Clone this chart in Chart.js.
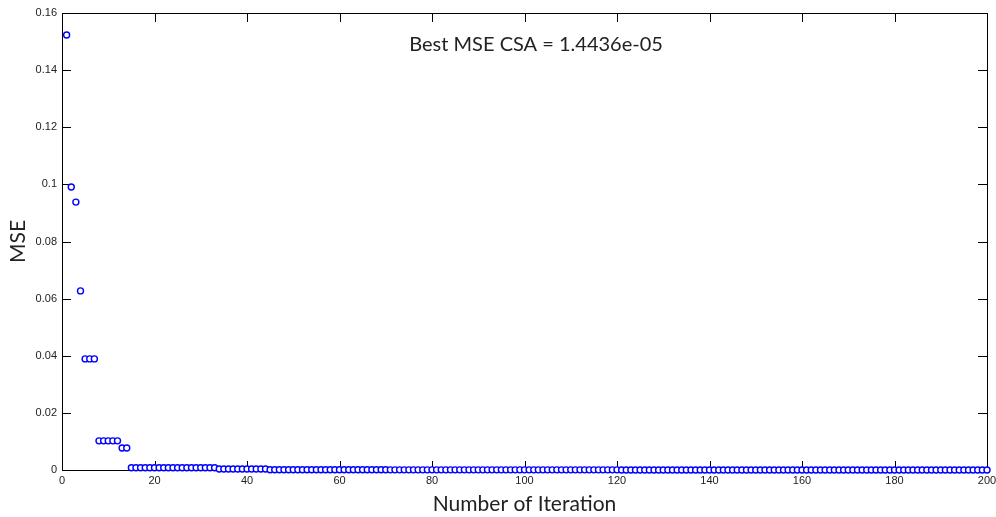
<!DOCTYPE html>
<html>
<head>
<meta charset="utf-8">
<script src="https://cdn.jsdelivr.net/npm/chart.js@4/dist/chart.umd.min.js"></script>
<style>
html,body{margin:0;padding:0;background:#fff;}
#wrap{width:996px;height:517px;position:relative;}
</style>
</head>
<body>
<div id="wrap"><canvas id="c"></canvas></div>
<script>
// Iteration numbers 1..200 are the x values; MSE values
const mseValues = [
  0.1523, 0.0991, 0.0938, 0.0627, 0.0389, 0.0389, 0.0389, 0.0102, 0.0102, 0.0102,
  0.0102, 0.0102, 0.0077, 0.0077, 0.0008, 0.0008, 0.0008, 0.0008, 0.0008, 0.0008,
  0.0008, 0.0008, 0.0008, 0.0008, 0.0008, 0.0008, 0.0008, 0.0008, 0.0008, 0.0008,
  0.0008, 0.0008, 0.0008, 0.00035, 0.00035, 0.00035, 0.00035, 0.00035, 0.00035, 0.00035,
  0.00035, 0.00035, 0.00035, 0.00035, 0.0001, 0.0001, 0.0001, 0.0001, 0.0001, 0.0001,
  0.0001, 0.0001, 0.0001, 0.0001, 0.0001, 0.0001, 0.0001, 0.0001, 0.0001, 0.0001,
  0.0001, 0.0001, 0.0001, 0.0001, 0.0001, 0.0001, 0.0001, 0.0001, 0.0001, 0.0001,
  0.00005, 0.00005, 0.00005, 0.00005, 0.00005, 0.00005, 0.00005, 0.00005, 0.00005, 0.00005,
  0.00005, 0.00005, 0.00005, 0.00005, 0.00005, 0.00005, 0.00005, 0.00005, 0.00005, 0.00005,
  0.00005, 0.00005, 0.00005, 0.00005, 0.00005, 0.00005, 0.00005, 0.00005, 0.00005, 0.00005,
  0.00005, 0.00005, 0.00005, 0.00005, 0.00005, 0.00005, 0.00005, 0.00005, 0.00005, 0.00005,
  0.00005, 0.00005, 0.00005, 0.00005, 0.00005, 0.00005, 0.00005, 0.00005, 0.00005, 0.00005,
  1.4436e-05, 1.4436e-05, 1.4436e-05, 1.4436e-05, 1.4436e-05, 1.4436e-05, 1.4436e-05, 1.4436e-05, 1.4436e-05, 1.4436e-05,
  1.4436e-05, 1.4436e-05, 1.4436e-05, 1.4436e-05, 1.4436e-05, 1.4436e-05, 1.4436e-05, 1.4436e-05, 1.4436e-05, 1.4436e-05,
  1.4436e-05, 1.4436e-05, 1.4436e-05, 1.4436e-05, 1.4436e-05, 1.4436e-05, 1.4436e-05, 1.4436e-05, 1.4436e-05, 1.4436e-05,
  1.4436e-05, 1.4436e-05, 1.4436e-05, 1.4436e-05, 1.4436e-05, 1.4436e-05, 1.4436e-05, 1.4436e-05, 1.4436e-05, 1.4436e-05,
  1.4436e-05, 1.4436e-05, 1.4436e-05, 1.4436e-05, 1.4436e-05, 1.4436e-05, 1.4436e-05, 1.4436e-05, 1.4436e-05, 1.4436e-05,
  1.4436e-05, 1.4436e-05, 1.4436e-05, 1.4436e-05, 1.4436e-05, 1.4436e-05, 1.4436e-05, 1.4436e-05, 1.4436e-05, 1.4436e-05,
  1.4436e-05, 1.4436e-05, 1.4436e-05, 1.4436e-05, 1.4436e-05, 1.4436e-05, 1.4436e-05, 1.4436e-05, 1.4436e-05, 1.4436e-05,
  1.4436e-05, 1.4436e-05, 1.4436e-05, 1.4436e-05, 1.4436e-05, 1.4436e-05, 1.4436e-05, 1.4436e-05, 1.4436e-05, 1.4436e-05
];
const xTickValues = [0, 20, 40, 60, 80, 100, 120, 140, 160, 180, 200];
const yTickValues = [0, 0.02, 0.04, 0.06, 0.08, 0.1, 0.12, 0.14, 0.16];
const xAxisTitle = 'Number of Iteration';
const yAxisTitle = 'MSE';
const annotationText = 'Best MSE CSA = 1.4436e-05';
const annotationPos = {x: 102.5, y: 0.1488};

const points = mseValues.map((v, i) => ({x: i + 1, y: v}));

const framePlugin = {
  id: 'frame',
  beforeDatasetsDraw(chart) {
    const {ctx, chartArea: a, scales: {x, y}} = chart;
    ctx.save();
    ctx.strokeStyle = '#000';
    ctx.lineWidth = 1;
    ctx.beginPath();
    ctx.rect(Math.round(a.left) + 0.5, Math.round(a.top) + 0.5, Math.round(a.right - a.left), Math.round(a.bottom - a.top));
    ctx.stroke();
    const tl = 9;
    ctx.beginPath();
    xTickValues.forEach(v => {
      const px = Math.round(x.getPixelForValue(v)) + 0.5;
      ctx.moveTo(px, a.bottom); ctx.lineTo(px, a.bottom - tl);
      ctx.moveTo(px, a.top); ctx.lineTo(px, a.top + tl);
    });
    yTickValues.forEach(v => {
      const py = Math.round(y.getPixelForValue(v)) + 0.5;
      ctx.moveTo(a.left, py); ctx.lineTo(a.left + tl, py);
      ctx.moveTo(a.right, py); ctx.lineTo(a.right - tl, py);
    });
    ctx.stroke();
    ctx.restore();
  },
  afterDraw(chart) {
    const {ctx, scales: {x, y}} = chart;
    ctx.save();
    ctx.fillStyle = '#222';
    ctx.font = '20px Lato, "Open Sans", sans-serif';
    ctx.textAlign = 'center';
    ctx.textBaseline = 'middle';
    ctx.fillText(annotationText, x.getPixelForValue(annotationPos.x), y.getPixelForValue(annotationPos.y));
    ctx.restore();
  }
};

new Chart(document.getElementById('c'), {
  type: 'scatter',
  data: {
    datasets: [{
      data: points,
      showLine: false,
      pointStyle: 'circle',
      pointRadius: 3,
      pointHoverRadius: 3,
      pointBorderWidth: 1.4,
      pointBorderColor: '#0000ff',
      pointBackgroundColor: '#ffffff',
      clip: false
    }]
  },
  options: {
    responsive: true,
    maintainAspectRatio: false,
    animation: false,
    events: [],
    layout: {padding: {top: 13, right: 9, left: 0, bottom: 0}},
    plugins: {legend: {display: false}, tooltip: {enabled: false}, title: {display: false}},
    scales: {
      x: {
        type: 'linear', min: 0, max: 200,
        afterBuildTicks: s => { s.ticks = xTickValues.map(v => ({value: v})); },
        afterFit: s => { s.height = 47; s.paddingLeft = 0; s.paddingRight = 0; },
        border: {display: false},
        grid: {display: false, drawTicks: false},
        ticks: {padding: 4, color: '#222', font: {family: 'Liberation Sans, Arial, sans-serif', size: 11}, maxRotation: 0,
          callback: v => String(v)},
        title: {display: true, text: xAxisTitle, color: '#222', padding: {top: 0, bottom: 0},
          font: {family: 'Lato, "Open Sans", sans-serif', size: 21}}
      },
      y: {
        type: 'linear', min: 0, max: 0.16,
        afterBuildTicks: s => { s.ticks = yTickValues.map(v => ({value: v})); },
        afterFit: s => { s.width = 62; s.paddingTop = 0; s.paddingBottom = 0; },
        border: {display: false},
        grid: {display: false, drawTicks: false},
        ticks: {padding: 5, color: '#222', font: {family: 'Liberation Sans, Arial, sans-serif', size: 11},
          callback: v => String(+Number(v).toFixed(4))},
        title: {display: true, text: yAxisTitle, color: '#222', padding: {top: 6, bottom: 0},
          font: {family: 'Lato, "Open Sans", sans-serif', size: 21}}
      }
    }
  },
  plugins: [framePlugin]
});
</script>
</body>
</html>
